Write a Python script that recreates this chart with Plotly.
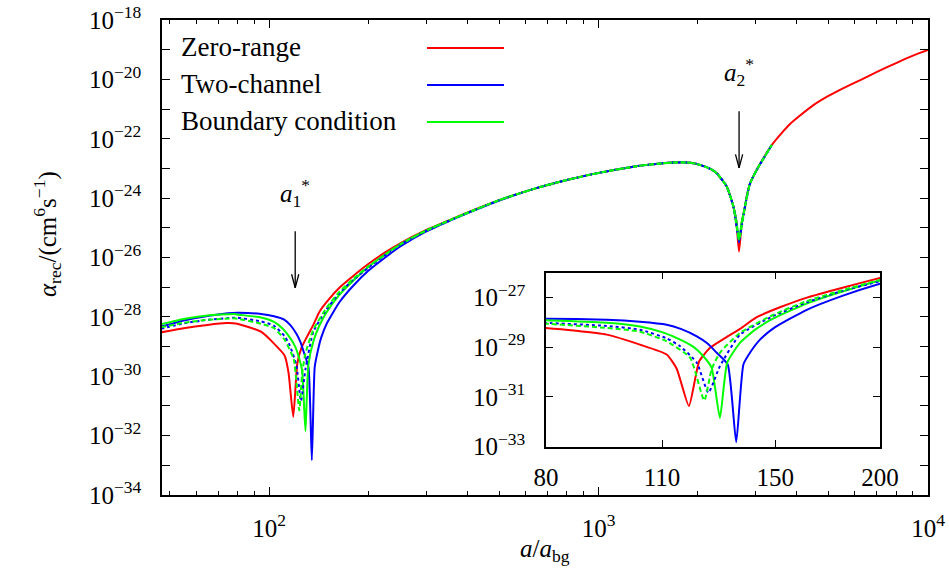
import math
import plotly.graph_objects as go

# ---------------- data (a / a_bg  and  log10 alpha_rec) ----------------
red_a = [47, 55, 65, 74, 80, 94.5, 103.5, 111.4, 114.5, 118.4, 121.8, 125.5, 131.3, 136.2,
         142.6, 152, 164, 180, 200, 225, 250, 300, 354, 420, 502, 640, 801, 1000, 1275, 1400,
         1687, 1900, 2032, 2200, 2284, 2449, 2567, 2620, 2669, 2720, 2783, 2817, 2884, 3020,
         3356, 3600, 3800, 4088, 4500, 5000, 5500, 6300, 7000, 8000, 9000, 10000]
red_lg = [-28.52, -28.38, -28.27, -28.21, -28.23, -28.5, -28.9, -29.3, -29.87, -31.37, -29.57,
          -29.03, -28.6, -28.27, -27.8, -27.4, -27.0, -26.62, -26.22, -25.83, -25.52, -25.07,
          -24.73, -24.39, -24.06, -23.68, -23.39, -23.15, -22.94, -22.88, -22.80, -22.81, -22.88,
          -23.03, -23.16, -23.61, -24.29, -24.8, -25.8, -24.85, -24.29, -23.95, -23.5, -23.05,
          -22.21, -21.8, -21.52, -21.22, -20.86, -20.55, -20.31, -20.0, -19.75, -19.45, -19.2,
          -19.01]

blue_a = [47, 55, 65, 75, 80, 94.5, 103.5, 111.4, 116, 121, 124.5, 127.8, 131.7, 134.8, 137.5,
          140.5, 143.9, 150, 163.6, 180, 200, 225, 250, 300, 354, 420, 502, 640, 801, 1000, 1275,
          1400, 1687, 1900, 2032, 2200, 2284, 2449, 2567, 2620, 2669, 2720, 2783, 2817, 2884,
          3020, 3356]
blue_lg = [-28.33, -28.12, -27.97, -27.88, -27.86, -27.9, -27.98, -28.1, -28.28, -28.57, -28.85,
           -29.23, -29.7, -32.83, -29.7, -29.15, -28.7, -28.2, -27.5, -26.95, -26.45, -26.0,
           -25.63, -25.12, -24.76, -24.41, -24.07, -23.68, -23.39, -23.15, -22.94, -22.88, -22.80,
           -22.81, -22.88, -23.03, -23.16, -23.61, -24.29, -24.8, -25.5, -24.85, -24.29, -23.95,
           -23.5, -23.05, -22.21]

green_a = [47, 55, 65, 78, 80, 94.5, 103.5, 110, 115.6, 120, 123.2, 126, 128.9, 131.5, 136.2,
           142, 149.3, 163.6, 180, 200, 225, 250, 300, 354, 420, 502, 640, 801, 1000, 1275, 1400,
           1687, 1900, 2032, 2200, 2284, 2449, 2567, 2620, 2669, 2720, 2783, 2817, 2884, 3020,
           3356]
green_lg = [-28.25, -28.07, -27.95, -27.9, -27.92, -28.02, -28.17, -28.4, -28.7, -29.0, -29.37,
            -29.83, -31.85, -29.63, -28.83, -28.3, -27.85, -27.25, -26.78, -26.32, -25.9, -25.56,
            -25.09, -24.74, -24.4, -24.06, -23.68, -23.39, -23.15, -22.94, -22.88, -22.80, -22.81,
            -22.88, -23.03, -23.16, -23.61, -24.29, -24.75, -25.41, -24.8, -24.29, -23.95, -23.5,
            -23.05, -22.21]

blue_dot_a = [47, 55, 65, 78, 80, 94.5, 103.5, 111.4, 115.6, 121, 124.9, 128.9, 136.2, 149.3,
              163.6, 180, 200, 225, 250, 300, 354, 420, 502, 640, 801, 1000, 1275, 1400, 1687,
              1900, 2032, 2200, 2284, 2449, 2567, 2669, 2783, 2884, 3020, 3356]
blue_dot_lg = [-28.4, -28.22, -28.1, -28.03, -28.03, -28.15, -28.3, -28.65, -28.97, -29.63,
               -30.83, -29.77, -28.5, -27.75, -27.2, -26.75, -26.35, -25.92, -25.57, -25.1,
               -24.75, -24.4, -24.06, -23.68, -23.39, -23.15, -22.94, -22.88, -22.80, -22.81,
               -22.88, -23.03, -23.16, -23.61, -24.29, -25.4, -24.29, -23.5, -23.05, -22.21]

green_dash_a = [47, 55, 65, 78, 80, 94.5, 103.5, 111.4, 118.8, 123.5, 126, 128.9, 136.2, 149.3,
                163.6, 180, 200, 225, 250, 300, 354, 420, 502, 640, 801, 1000, 1275, 1400, 1687,
                1900, 2032, 2200, 2284, 2449, 2567, 2669, 2783, 2884, 3020, 3356]
green_dash_lg = [-28.35, -28.2, -28.1, -28.05, -28.06, -28.23, -28.38, -28.77, -29.43, -31.15,
                 -29.9, -29.23, -28.43, -27.7, -27.15, -26.72, -26.3, -25.9, -25.56, -25.09,
                 -24.74, -24.4, -24.06, -23.68, -23.39, -23.15, -22.94, -22.88, -22.80, -22.81,
                 -22.88, -23.03, -23.16, -23.61, -24.29, -25.4, -24.29, -23.5, -23.05, -22.21]

legend_names = ["Zero-range", "Two-channel", "Boundary condition"]
colors = ["#ff0000", "#0000ff", "#00ff00"]

# resonance positions a*_1, a*_2 and the alpha (log10) at the arrow tips
a_star = [120.0, 2670.0]
a_star_tip_lg = [-27.02, -22.98]
a_star_labels = ["<i>a</i><sub>1</sub><sup>*</sup>", "<i>a</i><sub>2</sub><sup>*</sup>"]

main_y_major = list(range(-34, -17, 2))
main_y_minor = list(range(-33, -18, 2))
main_x_major = [100, 1000, 10000]
main_x_minor = [m * 10 ** k for k in (1, 2, 3) for m in range(2, 10) if m * 10 ** k >= 47]
inset_x_ticks = [80, 110, 150, 200]
inset_y_ticks = [-33, -31, -29, -27]

FONT = "Liberation Serif, Times New Roman, Times, serif"


def sup10(e):
    s = str(e).replace("-", "\u2212")
    return "10<sup>" + s + "</sup>"


series = [
    (red_a, red_lg, colors[0], "solid"),
    (blue_a, blue_lg, colors[1], "solid"),
    (green_a, green_lg, colors[2], "solid"),
    (blue_dot_a, blue_dot_lg, colors[1], "dot"),
    (green_dash_a, green_dash_lg, colors[2], "5px,3px"),
]

fig = go.Figure()
for xa, ya in (("x", "y"), ("x2", "y2")):
    for a, lg, c, dash in series:
        fig.add_trace(go.Scatter(
            x=a, y=[10 ** v for v in lg], mode="lines",
            line=dict(color=c, width=2, dash=dash, shape="spline", smoothing=0.5),
            xaxis=xa, yaxis=ya, showlegend=False, hoverinfo="skip"))

tickfont = dict(family=FONT, size=25, color="black")
axis_common = dict(showline=True, linecolor="black", linewidth=1.5, mirror="ticks",
                   ticks="inside", tickcolor="black", tickwidth=1.2, automargin=False,
                   showgrid=False, zeroline=False, tickfont=tickfont)

L = 162
R = 928
T = 20
B = 495
W, H = 949, 586
pw, ph = R - L, B - T


def px2paper_x(px):
    return (px - L) / pw


def px2paper_y(py):
    return (B - py) / ph


fig.update_layout(
    width=W, height=H,
    font=dict(family=FONT, size=25, color="black"),
    margin=dict(l=L, r=W - R, t=T, b=H - B, pad=0, autoexpand=False),
    paper_bgcolor="white", plot_bgcolor="white",
    xaxis=dict(type="log", range=[math.log10(47.3), 4], domain=[0, 1],
               tickvals=main_x_major, ticktext=[sup10(int(round(math.log10(v)))) for v in main_x_major],
               ticklen=8, ticklabelstandoff=10,
               minor=dict(tickvals=main_x_minor, ticklen=4, ticks="inside", tickcolor="black", tickwidth=1.2),
               **axis_common),
    yaxis=dict(type="log", range=[-34, -18], domain=[0, 1],
               tickvals=[10 ** e for e in main_y_major], ticktext=[sup10(e) for e in main_y_major],
               ticklen=8, ticklabelstandoff=14,
               minor=dict(tickvals=[10 ** e for e in main_y_minor], ticklen=8, ticks="inside",
                          tickcolor="black", tickwidth=1.2),
               **axis_common),
    xaxis2=dict(type="log", range=[math.log10(80), math.log10(200)], anchor="y2",
                domain=[px2paper_x(546), px2paper_x(880)],
                tickvals=inset_x_ticks, ticktext=[str(v) for v in inset_x_ticks],
                ticklen=7, ticklabelstandoff=8, **axis_common),
    yaxis2=dict(type="log", range=[-33, -26], anchor="x2",
                domain=[px2paper_y(446.5), px2paper_y(272.5)],
                tickvals=[10 ** e for e in inset_y_ticks], ticktext=[sup10(e) for e in inset_y_ticks],
                ticklen=7, ticklabelstandoff=14, **axis_common),
)

txtfont = dict(family=FONT, size=25, color="black")
legfont = dict(family=FONT, size=27, color="black")
ann = []
# axis titles
ann.append(dict(text="<i>a</i>/<i>a</i><sub>bg</sub>", xref="paper", yref="paper",
                x=px2paper_x(545), y=px2paper_y(568), showarrow=False, font=txtfont))
ann.append(dict(text="<i>α</i><sub>rec</sub>/(cm<sup>6</sup>s<sup>\u22121</sup>)", xref="paper", yref="paper",
                x=px2paper_x(27), y=px2paper_y(234), showarrow=False, textangle=-90, font=txtfont))

# legend drawn as text + line samples
legend_rows = [47, 84, 121]
for name, c, yy in zip(legend_names, colors, legend_rows):
    ann.append(dict(text=name, xref="paper", yref="paper", x=px2paper_x(179), y=px2paper_y(yy),
                    xanchor="left", yanchor="middle", showarrow=False, font=legfont))
    fig.add_shape(type="line", xref="paper", yref="paper",
                  x0=px2paper_x(427), x1=px2paper_x(504), y0=px2paper_y(yy + 1), y1=px2paper_y(yy + 1),
                  line=dict(color=c, width=2))

# resonance arrows
label_off = [-95, -96]
for a, lg, lab, lo in zip(a_star, a_star_tip_lg, a_star_labels, label_off):
    xl = math.log10(a)
    ann.append(dict(text="", x=xl, y=lg, xref="x", yref="y", ax=0, ay=-58,
                    showarrow=True, arrowhead=0, arrowwidth=1.3, arrowcolor="black", standoff=0))
    for dx in (-4, 4):
        ann.append(dict(text="", x=xl, y=lg, xref="x", yref="y", ax=dx, ay=-15,
                        showarrow=True, arrowhead=0, arrowwidth=1.3, arrowcolor="black", standoff=0))
    ann.append(dict(text=lab, x=xl, y=lg, xref="x", yref="y", ax=0, ay=lo, showarrow=True,
                    arrowcolor="rgba(0,0,0,0)", arrowwidth=0.1, arrowhead=0, font=txtfont))

fig.update_layout(annotations=ann)
fig.write_html("out.html")
